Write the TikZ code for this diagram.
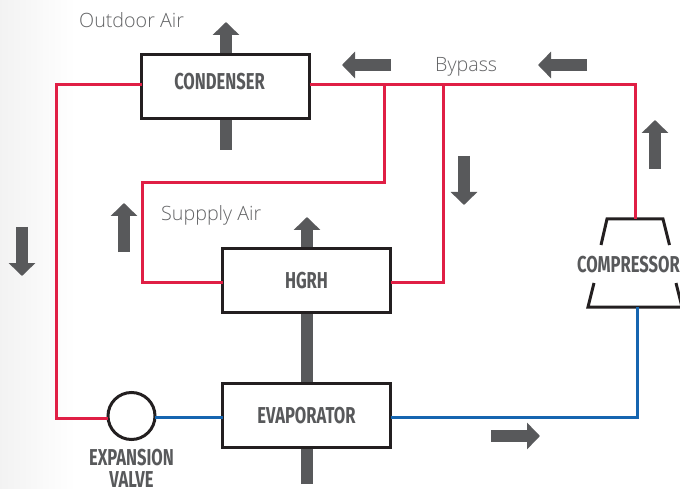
\documentclass[tikz,border=0pt]{standalone}
\usepackage{fontspec}
\setmainfont{Open Sans Light}[BoldFont=Open Sans]
\newfontfamily\labelfont{Open Sans Light}
\newfontfamily\boxfont[FakeStretch=0.72]{Fira Sans Bold}
\usetikzlibrary{arrows.meta}
\definecolor{hot}{HTML}{E01F45}
\definecolor{cold}{HTML}{1565B0}
\definecolor{flowgray}{HTML}{58595B}
\definecolor{inkblack}{HTML}{231F20}
\definecolor{labelgray}{HTML}{636466}
\tikzset{
  unit/.style={draw=inkblack,line width=3.2pt,fill=white,minimum width=168pt,minimum height=64pt,inner sep=0pt,outer sep=0pt,text=flowgray,font=\boxfont\fontsize{23}{23}\selectfont},
  valvebody/.style={draw=inkblack,line width=3pt,fill=white,circle,minimum size=47pt,inner sep=0pt,outer sep=0pt},
  hotline/.style={draw=hot,line width=3pt,line join=miter},
  coldline/.style={draw=cold,line width=3pt,line join=miter},
  flow/.style={draw=flowgray,line width=12pt,-{Triangle[length=13pt,width=26pt,fill=flowgray]}},
  caption/.style={text=labelgray,font=\labelfont\fontsize{19.7}{20}\selectfont,inner sep=0pt},
  unitcaption/.style={text=flowgray,font=\boxfont\fontsize{23}{23}\selectfont,inner sep=0pt},
  compressorline/.style={draw=inkblack,line width=3pt,line join=miter}
}
\begin{document}
\begin{tikzpicture}[x=1pt,y=-1pt]
\useasboundingbox (0,0) rectangle (680,489);
\shade[left color=black!5,right color=white,draw=none] (0,0) rectangle (75,489);

% air and refrigerant flow arrows
\foreach \n/\ax/\ay/\bx/\by in {
  airA/226/150/226/22,
  airB/307/484/307/217,
  refA/391/65/342/65,
  refB/587/65/538/65,
  refC/655/169/655/120,
  refD/464/156/464/205,
  refE/124/252/124/203,
  refF/22/227/22/276,
  refG/491/436/540/436}{
  \coordinate (\n s) at (\ax,\ay);
  \coordinate (\n e) at (\bx,\by);
  \draw[flow] (\n s) -- (\n e);
}

% units
\node[unit] (cond) at (225.5,86.5) {};
\node[unit] (hgrh) at (306.5,280.5) {};
\node[unit] (evap) at (306.5,415.5) {};
\node[valvebody] (valve) at (131.5,416) {};
\node[unitcaption,anchor=base] (condtext) at (219.5,90) {CONDENSER};
\node[unitcaption,anchor=base] (hgrhtext) at (306.5,288) {HGRH};
\node[unitcaption,anchor=base] (evaptext) at (306.5,423) {EVAPORATOR};

% compressor outline
\coordinate (cTL) at (607,219);
\coordinate (cTR) at (663,219);
\coordinate (cUL) at (601,245);
\coordinate (cUR) at (669.5,245);
\coordinate (cLL) at (594,283);
\coordinate (cLR) at (676,283);
\coordinate (cBL) at (588,307);
\coordinate (cBR) at (682,307);
\coordinate (cTM) at (635,219);
\coordinate (cBM) at (637,307);
\draw[compressorline] (cUL) -- (cTL) -- (cTR) -- (cUR);
\draw[compressorline] (cLL) -- (cBL) -- (cBR) -- (cLR);
\node[unitcaption,anchor=base] (comp) at (628.5,272) {COMPRESSOR};

% red refrigerant lines
\coordinate (topL) at (56,85);
\coordinate (botL) at (56,418);
\coordinate (topR) at (635,85);
\coordinate (j1) at (384,85);
\coordinate (j1b) at (384,183);
\coordinate (loopTL) at (142,183);
\coordinate (loopBL) at (142,282);
\coordinate (j2) at (443,85);
\coordinate (j2b) at (443,282);
\draw[hotline] (cond.west |- topL) -- (topL) -- (botL) -- (valve.west |- botL);
\draw[hotline] (cond.east |- topL) -- (topR) -- (cTM);
\draw[hotline] (j1) -- (j1b) -- (loopTL) -- (loopBL) -- (hgrh.west |- loopBL);
\draw[hotline] (j2) -- (j2b) -- (hgrh.east |- j2b);

% blue refrigerant lines
\coordinate (blueR) at (637,417);
\draw[coldline] (valve.east |- blueR) -- (evap.west |- blueR);
\draw[coldline] (evap.east |- blueR) -- (blueR) -- (cBM);

% labels
\node[caption,anchor=base west] (outdoor) at (79,27.5) {Outdoor Air};
\node[caption,anchor=base west] (bypass) at (435,72) {Bypass};
\node[caption,anchor=base west] (supply) at (161,221) {Suppply Air};
\node[unitcaption,anchor=base] (valvetextA) at (131.5,465) {EXPANSION};
\node[unitcaption,anchor=base] (valvetextB) at (131.5,487) {VALVE};
\end{tikzpicture}
\end{document}
